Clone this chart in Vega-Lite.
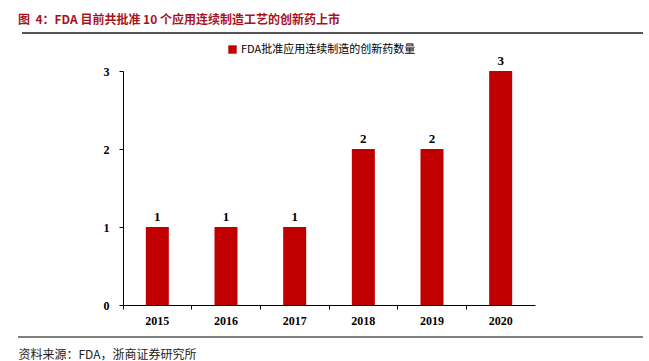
{
  "$schema": "https://vega.github.io/schema/vega-lite/v6.json",
  "width": 412,
  "height": 234,
  "autosize": "none",
  "padding": {"left": 123, "top": 71, "right": 114, "bottom": 56},
  "background": "white",
  "title": {
    "text": "图\u00a0\u00a04：FDA 目前共批准 10 个应用连续制造工艺的创新药上市",
    "anchor": "start",
    "frame": "group",
    "dx": -105,
    "offset": 5,
    "font": "Noto Sans CJK SC",
    "fontSize": 12,
    "fontWeight": "bold",
    "color": "#A8131B"
  },
  "config": {
    "view": {"stroke": null}
  },
  "data": {
    "values": [
      {"year": "2015", "count": 1, "series": "FDA批准应用连续制造的创新药数量"},
      {"year": "2016", "count": 1, "series": "FDA批准应用连续制造的创新药数量"},
      {"year": "2017", "count": 1, "series": "FDA批准应用连续制造的创新药数量"},
      {"year": "2018", "count": 2, "series": "FDA批准应用连续制造的创新药数量"},
      {"year": "2019", "count": 2, "series": "FDA批准应用连续制造的创新药数量"},
      {"year": "2020", "count": 3, "series": "FDA批准应用连续制造的创新药数量"}
    ]
  },
  "layer": [
    {
      "mark": {"type": "bar", "width": {"band": 0.335}},
      "encoding": {
        "x": {
          "field": "year",
          "type": "ordinal",
          "scale": {"paddingInner": 0, "paddingOuter": 0},
          "axis": {
            "title": "资料来源：FDA，浙商证券研究所",
            "titleFont": "Noto Sans CJK SC",
            "titleFontSize": 12,
            "titleFontWeight": "normal",
            "titleColor": "#222",
            "titleAnchor": "start",
            "titleAlign": "left",
            "titleX": -105,
            "titleY": 49,
            "titleBaseline": "middle",
            "labelAngle": 0,
            "labelFont": "Liberation Serif",
            "labelFontWeight": "bold",
            "labelFontSize": 12,
            "labelColor": "#000",
            "labelPadding": 6,
            "domainColor": "#000",
            "tickColor": "#000",
            "tickSize": 4,
            "bandPosition": 0
          }
        },
        "y": {
          "field": "count",
          "type": "quantitative",
          "scale": {"domain": [0, 3]},
          "axis": {
            "title": null,
            "values": [0, 1, 2, 3],
            "format": "d",
            "grid": false,
            "labelFont": "Liberation Serif",
            "labelFontWeight": "bold",
            "labelFontSize": 12,
            "labelColor": "#000",
            "labelPadding": 10,
            "domainColor": "#000",
            "tickColor": "#000",
            "tickSize": 4
          }
        },
        "color": {
          "field": "series",
          "type": "nominal",
          "scale": {"range": ["#C00000"]},
          "legend": {
            "title": null,
            "orient": "none",
            "legendX": 104,
            "legendY": -27,
            "symbolType": "square",
            "symbolSize": 70,
            "symbolStrokeWidth": 0,
            "labelFont": "Noto Sans CJK SC",
            "labelFontSize": 11,
            "labelColor": "#000",
            "labelOffset": 3,
            "labelLimit": 400
          }
        }
      }
    },
    {
      "mark": {
        "type": "text",
        "dy": -10,
        "font": "Liberation Serif",
        "fontWeight": "bold",
        "fontSize": 13,
        "color": "#000"
      },
      "encoding": {
        "x": {"field": "year", "type": "ordinal"},
        "y": {"field": "count", "type": "quantitative"},
        "text": {"field": "count", "type": "quantitative"}
      }
    },
    {
      "data": {"values": [{"line": "top"}]},
      "mark": {"type": "rule", "color": "#555555", "strokeWidth": 2, "clip": false},
      "encoding": {
        "x": {"value": -101},
        "x2": {"value": 520},
        "y": {"value": -38}
      }
    },
    {
      "data": {"values": [{"line": "bottom"}]},
      "mark": {"type": "rule", "color": "#555555", "strokeWidth": 1.5, "clip": false},
      "encoding": {
        "x": {"value": -105},
        "x2": {"value": 520},
        "y": {"value": 266}
      }
    }
  ]
}
